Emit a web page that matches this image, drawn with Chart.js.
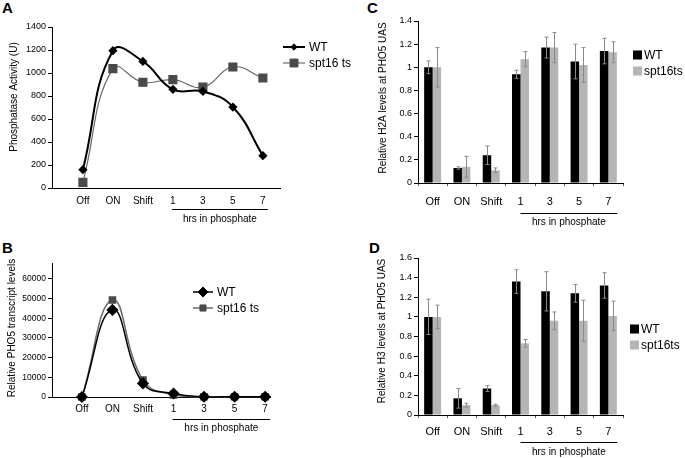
<!DOCTYPE html>
<html><head><meta charset="utf-8">
<script src="https://cdn.jsdelivr.net/npm/chart.js@4.4.1/dist/chart.umd.min.js"></script>
<style>
html,body{margin:0;padding:0;background:#fff;width:685px;height:458px;overflow:hidden;font-family:'Liberation Sans',Arial,sans-serif;}
canvas{position:absolute;}
.lbl{position:absolute;font-weight:bold;font-size:15px;line-height:15px;color:#000;}
</style></head><body>
<div class="lbl" style="left:2px;top:0px">A</div>
<div class="lbl" style="left:2px;top:240px">B</div>
<div class="lbl" style="left:367px;top:0px">C</div>
<div class="lbl" style="left:369px;top:240px">D</div>
<canvas id="cA" style="left:0;top:0" width="370" height="230"></canvas>
<canvas id="cB" style="left:0;top:230px" width="370" height="228"></canvas>
<canvas id="cC" style="left:370px;top:0" width="315" height="230"></canvas>
<canvas id="cD" style="left:370px;top:230px" width="315" height="228"></canvas>
<script>
// ---------- data ----------
const categories = ['Off','ON','Shift','1','3','5','7'];
const hrsLabel = 'hrs in phosphate';
const lineSeries = ['WT','spt16 ts'];
const barSeries = ['WT','spt16ts'];

const phosWT  = [159,1194,1101,858,840,704,281];
const phosSpt = [49,1038,919,942,878,1052,957];
const ticksA  = [0,200,400,600,800,1000,1200,1400];

const pho5WT  = [0,44200,6900,1800,100,100,100];
const pho5Spt = [0,49200,8600,1000,100,100,100];
const ticksB  = [0,10000,20000,30000,40000,50000,60000];

const h2aWT     = [1.00,0.13,0.24,0.94,1.17,1.05,1.14];
const h2aWTErr  = [0.055,0.01,0.08,0.035,0.09,0.15,0.11];
const h2aSpt    = [1.00,0.14,0.11,1.07,1.17,1.02,1.13];
const h2aSptErr = [0.17,0.09,0.02,0.065,0.13,0.15,0.09];

const h3WT     = [1.00,0.17,0.27,1.36,1.26,1.24,1.32];
const h3WTErr  = [0.18,0.10,0.03,0.12,0.20,0.09,0.13];
const h3Spt    = [1.00,0.10,0.10,0.73,0.96,0.96,1.01];
const h3SptErr = [0.12,0.02,0.01,0.04,0.09,0.21,0.15];

const titleA = 'Phosphatase Activity (U)';
const titleB = 'Relative PHO5 transcript levels';
const titleC = 'Relative H2A levels at PHO5 UAS';
const titleD = 'Relative H3 levels at PHO5 UAS';

// ---------- setup ----------
const FONT = "'Liberation Sans', Arial, sans-serif";
Chart.defaults.font.family = FONT;
Chart.defaults.color = '#000';

const decor = {
  id: 'decor',
  afterDraw(chart, args, o) {
    const ctx = chart.ctx, xs = chart.scales.x;
    ctx.save();
    ctx.fillStyle = '#000'; ctx.strokeStyle = '#000';
    if (o.yTitle) {
      ctx.save();
      ctx.translate(o.yTitle.x, o.yTitle.y);
      ctx.rotate(-Math.PI / 2);
      ctx.font = o.yTitle.size + 'px ' + FONT;
      ctx.textAlign = 'center'; ctx.textBaseline = 'middle';
      ctx.fillText(o.yTitle.text, 0, 0);
      ctx.restore();
    }
    if (o.hrs) {
      const h = o.hrs;
      const x1 = xs.getPixelForValue(h.from) + h.dx1;
      const x2 = xs.getPixelForValue(h.to) + h.dx2;
      const yl = Math.round(xs.top + h.lineDy) + 0.5;
      ctx.lineWidth = 1;
      ctx.beginPath(); ctx.moveTo(x1, yl); ctx.lineTo(x2, yl); ctx.stroke();
      ctx.font = h.size + 'px ' + FONT;
      ctx.textAlign = 'center'; ctx.textBaseline = 'middle';
      ctx.fillText(h.text, (x1 + x2) / 2, xs.top + h.textDy);
    }
    if (o.legend) {
      const L = o.legend;
      chart.data.datasets.forEach((ds, i) => {
        const y = L.y + i * L.dy;
        ctx.font = L.size + 'px ' + FONT;
        ctx.textAlign = 'left'; ctx.textBaseline = 'middle';
        if (L.kind === 'line') {
          ctx.strokeStyle = ds.borderColor; ctx.lineWidth = ds.borderWidth;
          ctx.beginPath(); ctx.moveTo(L.x, y); ctx.lineTo(L.x + L.len, y); ctx.stroke();
          ctx.fillStyle = ds.pointBackgroundColor; ctx.strokeStyle = ds.pointBorderColor; ctx.lineWidth = 1;
          Chart.helpers.drawPoint(ctx, {pointStyle: ds.pointStyle, radius: ds.pointRadius, rotation: 0, borderWidth: 1}, L.x + L.len / 2, y);
          ctx.fillStyle = '#000';
          ctx.fillText(ds.label, L.x + L.len + 4, y + 1);
        } else {
          ctx.fillStyle = ds.backgroundColor;
          ctx.fillRect(L.x, y - L.box / 2, L.box, L.box);
          ctx.fillStyle = '#000';
          ctx.fillText(ds.label, L.x + L.box + 2, y + 1);
        }
      });
    }
    ctx.restore();
  }
};

const errorBars = {
  id: 'errorBars',
  afterDatasetsDraw(chart, args, o) {
    const ctx = chart.ctx, ys = chart.scales.y;
    ctx.save();
    chart.data.datasets.forEach((ds, i) => {
      if (!ds.errors) return;
      const meta = chart.getDatasetMeta(i);
      meta.data.forEach((bar, j) => {
        const v = ds.data[j], e = ds.errors[j];
        const yt = ys.getPixelForValue(v + e), yb = ys.getPixelForValue(v - e);
        const x = Math.round(bar.x) + 0.5;
        ctx.strokeStyle = o.color; ctx.lineWidth = 1;
        ctx.beginPath();
        ctx.moveTo(x, yt); ctx.lineTo(x, yb);
        ctx.moveTo(x - o.cap, yt); ctx.lineTo(x + o.cap, yt);
        ctx.moveTo(x - o.cap, yb); ctx.lineTo(x + o.cap, yb);
        ctx.stroke();
      });
    });
    ctx.restore();
  }
};

const toPts = arr => arr.map((v, i) => ({x: i, y: v}));
const plainNum = v => String(Math.round(v * 100) / 100);

function lineChart(id, cfg) {
  return new Chart(document.getElementById(id), {
    type: 'line',
    data: {datasets: [
      {label: lineSeries[0], data: toPts(cfg.wt), borderColor: '#000', borderWidth: cfg.wtW,
       pointStyle: 'rectRot', pointRadius: cfg.wtR, pointBackgroundColor: '#000', pointBorderColor: '#000',
       tension: 0.45, clip: false},
      {label: lineSeries[1], data: toPts(cfg.spt), borderColor: '#6a6a6a', borderWidth: cfg.sptW,
       pointStyle: 'rect', pointRadius: cfg.sptR, pointBackgroundColor: '#4a4a4a', pointBorderColor: '#4a4a4a',
       tension: 0.45, clip: false}
    ]},
    options: {
      responsive: false, animation: false, events: [],
      layout: {padding: {left: 0, top: cfg.top, right: cfg.right, bottom: 0}},
      plugins: {legend: {display: false}, tooltip: {enabled: false},
        decor: {yTitle: {text: cfg.title, x: cfg.titleX, y: cfg.titleY, size: 10},
                hrs: {text: hrsLabel, from: 3, to: 6, dx1: -1, dx2: 5, lineDy: cfg.lineDy, textDy: cfg.textDy, size: 10},
                legend: {kind: 'line', x: cfg.legX, y: cfg.legY, dy: 16, len: cfg.legLen, size: 12}}},
      scales: {
        x: {type: 'linear', min: cfg.xmin, max: cfg.xmax,
            afterBuildTicks: s => { s.ticks = categories.map((c, i) => ({value: i})); },
            ticks: {callback: v => categories[v], font: {size: 10}, padding: cfg.xpad, autoSkip: false, maxRotation: 0},
            grid: {display: false, drawTicks: false}, border: {color: '#000', width: 1},
            afterFit: s => { s.height = cfg.xh; }},
        y: {min: 0, max: cfg.ymax,
            afterBuildTicks: s => { s.ticks = cfg.yticks.map(v => ({value: v})); },
            ticks: {font: {size: cfg.yfs}, padding: 2, autoSkip: false, callback: v => String(v)},
            grid: {drawOnChartArea: false, tickLength: 4, color: '#000'}, border: {color: '#000', width: 1},
            afterFit: s => { s.width = 52; }}
      }
    },
    plugins: [decor]
  });
}

function barChart(id, cfg) {
  return new Chart(document.getElementById(id), {
    type: 'bar',
    data: {labels: categories, datasets: [
      {label: barSeries[0], data: cfg.wt, errors: cfg.wtErr, backgroundColor: '#000', categoryPercentage: 0.58, barPercentage: 1},
      {label: barSeries[1], data: cfg.spt, errors: cfg.sptErr, backgroundColor: '#b5b5b5', categoryPercentage: 0.58, barPercentage: 1}
    ]},
    options: {
      responsive: false, animation: false, events: [],
      layout: {padding: {left: 0, top: cfg.top, right: 62, bottom: 0}},
      plugins: {legend: {display: false}, tooltip: {enabled: false},
        errorBars: {color: '#8a8a8a', cap: 2},
        decor: {yTitle: {text: cfg.title, x: cfg.titleX, y: cfg.titleY, size: 10},
                hrs: {text: hrsLabel, from: 3, to: 6, dx1: 0, dx2: 9, lineDy: cfg.lineDy, textDy: cfg.textDy, size: 10},
                legend: {kind: 'box', x: cfg.legX, y: cfg.legY, dy: 16, box: 9, size: 12}}},
      scales: {
        x: {ticks: {font: {size: 11}, padding: cfg.xpad, autoSkip: false, maxRotation: 0},
            grid: {display: true, drawOnChartArea: false, tickLength: 3, color: '#555', offset: true},
            border: {color: '#000', width: 1},
            afterFit: s => { s.height = cfg.xh; }},
        y: {min: 0, max: cfg.ymax,
            ticks: {stepSize: 0.2, font: {size: 9}, padding: 2, callback: plainNum},
            grid: {drawOnChartArea: false, tickLength: 4, color: '#000'}, border: {color: '#000', width: 1},
            afterFit: s => { s.width = 48; }}
      }
    },
    plugins: [errorBars, decor]
  });
}

lineChart('cA', {wt: phosWT, spt: phosSpt, wtW: 2, sptW: 1.2, wtR: 3.2, sptR: 5.6,
  top: 27, right: 90, xmin: -1.03, xmax: 6.57, xh: 42, xpad: 7, ymax: 1400, yticks: ticksA, yfs: 9,
  title: titleA, titleX: 14, titleY: 97, lineDy: 21, textDy: 31, legX: 283, legY: 47, legLen: 22});

lineChart('cB', {wt: pho5WT, spt: pho5Spt, wtW: 1.5, sptW: 1.5, wtR: 5, sptR: 4.3,
  top: 33, right: 100, xmin: -0.98, xmax: 6.16, xh: 61, xpad: 6, ymax: 68000, yticks: ticksB, yfs: 8.5,
  title: titleB, titleX: 12, titleY: 98, lineDy: 22, textDy: 31, legX: 193, legY: 62, legLen: 20});

barChart('cC', {wt: h2aWT, wtErr: h2aWTErr, spt: h2aSpt, sptErr: h2aSptErr,
  top: 21, xh: 47, xpad: 9, ymax: 1.4, title: titleC, titleX: 13, titleY: 98,
  lineDy: 30, textDy: 39, legX: 263, legY: 55});

barChart('cD', {wt: h3WT, wtErr: h3WTErr, spt: h3Spt, sptErr: h3SptErr,
  top: 28, xh: 43, xpad: 7, ymax: 1.6, title: titleD, titleX: 12, titleY: 101,
  lineDy: 27, textDy: 37, legX: 260, legY: 99});
</script>
</body></html>
